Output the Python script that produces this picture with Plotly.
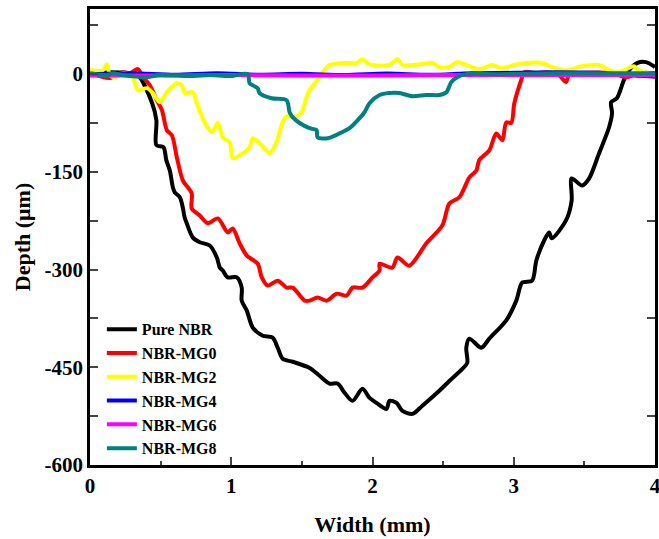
import plotly.graph_objects as go

# Scratch profiles: width (mm) vs depth (µm)
pure_x = [0, 0.14, 0.28, 0.34, 0.44, 0.47, 0.47, 0.52, 0.54, 0.565, 0.587, 0.60, 0.636, 0.657, 0.67, 0.685,
          0.728, 0.777, 0.848, 0.898, 0.919, 0.94, 0.975, 1.039, 1.074, 1.074, 1.11, 1.152, 1.223, 1.293,
          1.329, 1.364, 1.435, 1.555, 1.625, 1.696, 1.753, 1.802, 1.859, 1.929, 1.979, 2.028, 2.099, 2.12,
          2.17, 2.212, 2.283, 2.353, 2.473, 2.544, 2.636, 2.671, 2.664, 2.686, 2.77, 2.827, 2.947, 3.018,
          3.06, 3.13, 3.16, 3.216, 3.25, 3.27, 3.37, 3.41, 3.41, 3.484, 3.534, 3.604, 3.675, 3.696, 3.689,
          3.73, 3.78, 3.816, 3.873, 3.936, 4.0]
pure_y = [1.5, 3, 1.5, -1.5, -44.6, -70.8, -109, -112, -132, -148, -174, -181.5, -189, -204.6, -220, -229,
          -251, -258, -263, -281.5, -297, -301.5, -312, -312, -327.7, -347.7, -363, -389, -401.5, -404.6,
          -420, -437, -441.5, -451, -463, -475, -475, -489, -501.5, -483, -497, -504.6, -514, -501.5,
          -504.6, -517, -521.5, -509, -486, -471, -452.5, -443, -420, -406, -420, -406, -378, -347.7,
          -320, -317, -286, -255, -243, -252, -224.6, -194, -160, -171, -160, -121.5, -81.5, -60, -43,
          -37, -9, 6, 17, 18.5, 11]

mg0_x = [0, 0.14, 0.233, 0.283, 0.339, 0.375, 0.424, 0.473, 0.509, 0.544, 0.58, 0.615, 0.657, 0.72, 0.72,
         0.777, 0.834, 0.905, 0.975, 1.01, 1.06, 1.11, 1.187, 1.216, 1.258, 1.329, 1.392, 1.435, 1.52,
         1.555, 1.611, 1.675, 1.746, 1.816, 1.859, 1.929, 2.0, 2.05, 2.05, 2.14, 2.177, 2.26, 2.38, 2.495,
         2.544, 2.615, 2.686, 2.735, 2.756, 2.827, 2.876, 2.919, 2.947, 2.982, 3.004, 3.053, 3.074, 3.159,
         3.23, 3.32, 3.37, 3.39, 3.46, 3.696, 3.795, 3.887, 4.0]
mg0_y = [1.5, -6, 3, 1.5, 7.7, -4.6, -17, -40, -55, -86, -94, -128, -163, -183, -206, -217, -229, -221.5,
         -243, -237, -260, -278.5, -291, -312, -324.6, -317, -327.7, -327.7, -347.7, -347.7, -343, -347.7,
         -337, -340, -327.7, -327.7, -312, -301.5, -291, -297, -281.5, -294, -260, -232, -198.5, -189,
         -158.5, -148, -132, -117, -91, -101.5, -74, -75, -44.6, -9, 3, 1.5, 3, -1.5, -12, -1.5, 1.5, 1.5,
         -4.6, 1.5, 1.5]

mg2_x = [0, 0.092, 0.12, 0.141, 0.177, 0.233, 0.297, 0.339, 0.403, 0.445, 0.495, 0.544, 0.615, 0.65, 0.671,
         0.728, 0.756, 0.813, 0.862, 0.905, 0.94, 0.989, 1.01, 1.06, 1.13, 1.152, 1.216, 1.272, 1.32, 1.364,
         1.392, 1.449, 1.498, 1.534, 1.555, 1.611, 1.647, 1.696, 1.788, 1.887, 1.929, 1.979, 2.12, 2.177,
         2.212, 2.332, 2.424, 2.473, 2.544, 2.6, 2.664, 2.756, 2.848, 2.912, 3.004, 3.088, 3.2, 3.27, 3.37,
         3.484, 3.604, 3.675, 3.746, 3.85, 3.887, 4.0]
mg2_y = [6, 6, 15, -1.5, -4.6, 1.5, -1.5, -24.6, -21.5, -29, -43, -27.7, -14, -17, -29, -27.7, -44.6, -75,
         -89, -75, -97, -104.6, -129, -124.6, -112, -98.5, -109, -121.5, -104.6, -74, -64.6, -66, -58.5,
         -35, -24.6, -9, 3, 14, 17, 17, 23, 15, 14, 23, 14, 15, 17, 11, 11, 18.5, 14, 7.7, 14, 9, 14, 17,
         17, 11, 6, 12, 14, 6, 3, 12, 6, -1.5]

mg4_x = [0, 0.3, 0.6, 0.9, 1.2, 1.5, 1.8, 2.1, 2.4, 2.7, 3.0, 3.3, 3.6, 3.8, 4.0]
mg4_y = [0, 1.5, -1, 1.5, -1, 0.5, -1.5, 1, -1, 1.5, 2, 3, 2, -1.5, -4]

mg6_x = [0, 0.5, 1.0, 1.5, 2.0, 2.5, 3.0, 3.5, 4.0]
mg6_y = [-2, -2, -1.5, -2, -2, -1.5, -1.5, -1.5, -1.5]

mg8_x = [0, 0.12, 0.163, 0.233, 0.403, 0.495, 0.707, 0.848, 0.989, 1.117, 1.13, 1.187, 1.2, 1.286, 1.392,
         1.413, 1.435, 1.484, 1.555, 1.604, 1.611, 1.682, 1.767, 1.837, 1.894, 1.943, 1.979, 2.05, 2.12,
         2.19, 2.283, 2.38, 2.473, 2.523, 2.558, 2.6, 2.664, 2.9, 3.32, 3.6, 4.0]
mg8_y = [1.5, -1.5, 1.5, -1.5, -4.6, -1.5, -3, -1.5, -3, 0, -14, -21.5, -29, -37, -40, -58.5, -66, -75,
         -83, -86, -97, -98.5, -91, -83, -71, -58.5, -44.6, -32, -29, -29, -34, -32, -32, -27.7, -12,
         -4.6, 0, 0, 1.5, 1.5, 1.5]

series = [
    ("Pure NBR", pure_x, pure_y, "#000000"),
    ("NBR-MG0", mg0_x, mg0_y, "#ff0000"),
    ("NBR-MG2", mg2_x, mg2_y, "#ffff00"),
    ("NBR-MG4", mg4_x, mg4_y, "#0000ff"),
    ("NBR-MG6", mg6_x, mg6_y, "#ff00ff"),
    ("NBR-MG8", mg8_x, mg8_y, "#008080"),
]

x_ticks = [0, 1, 2, 3, 4]
y_ticks = [-600, -450, -300, -150, 0]
y_tick_text = ["-600", "-450", "-300", "-150", "0"]
y_minor_right = [-525, -375, -225, -75, 75]

FONT = "Liberation Serif, Times New Roman, serif"

fig = go.Figure()
for name, xs, ys, color in series:
    fig.add_trace(go.Scatter(
        x=xs, y=ys, name=name, mode="lines",
        line=dict(color=color, width=4, shape="spline", smoothing=0.8),
    ))

# invisible trace carrying the right-hand axis
fig.add_trace(go.Scatter(x=[0], y=[0], yaxis="y2", mode="lines", showlegend=False,
                         line=dict(width=0), hoverinfo="skip"))

fig.update_layout(
    width=659, height=539,
    margin=dict(l=90, r=4, t=9, b=74, autoexpand=False),
    plot_bgcolor="white", paper_bgcolor="white",
    font=dict(family=FONT, color="black", size=21, weight="bold"),
    xaxis=dict(
        range=[0, 4], tickvals=x_ticks, ticks="inside", ticklen=8, tickwidth=2,
        minor=dict(dtick=0.5, ticks="inside", ticklen=4, tickwidth=2, showgrid=False),
        showline=True, linewidth=2.5, linecolor="black", mirror=True,
        showgrid=False, zeroline=False, automargin=False, ticklabeloverflow="allow",
        title=dict(text="Width (mm)", font=dict(size=22, weight="bold"), standoff=20),
        tickfont=dict(size=21, weight="bold"),
    ),
    yaxis=dict(
        range=[-600, 100], tickvals=y_ticks, ticktext=y_tick_text, ticks="inside", ticklen=8, tickwidth=2,
        minor=dict(tickvals=y_minor_right, ticks="inside", ticklen=8, tickwidth=2, showgrid=False),
        showline=True, linewidth=2.5, linecolor="black", mirror=True,
        showgrid=False, zeroline=False, automargin=False, ticklabeloverflow="allow",
        title=dict(text="Depth (μm)", font=dict(size=22, weight="bold"), standoff=8),
        tickfont=dict(size=21, weight="bold"),
    ),
    yaxis2=dict(
        range=[-600, 100], overlaying="y", side="right", tickvals=y_minor_right,
        ticks="inside", ticklen=8, tickwidth=2, showticklabels=False,
        showgrid=False, zeroline=False, showline=False, automargin=False,
    ),
    legend=dict(
        x=0.021, y=0.335, xanchor="left", yanchor="top",
        bgcolor="rgba(0,0,0,0)", font=dict(size=16, weight="bold"),
        tracegroupgap=0, itemwidth=30,
    ),
    showlegend=True,
)

fig.write_html("out.html")
